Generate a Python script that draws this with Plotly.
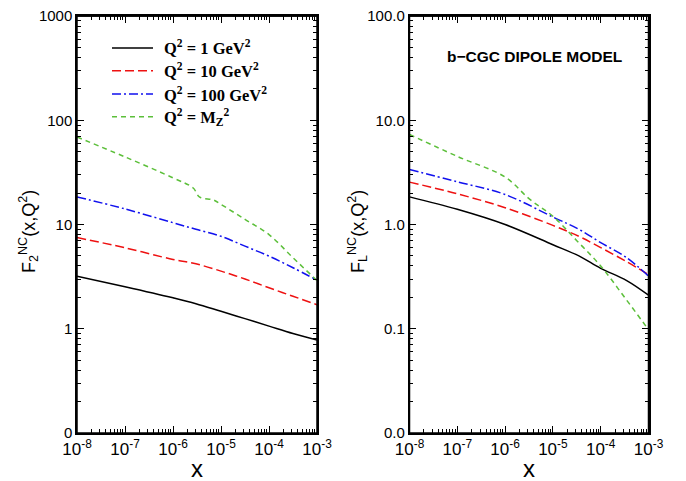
import plotly.graph_objects as go

# ---------------- data ----------------
x_std = [1e-8, 1e-7, 1e-6, 3e-6, 1e-5, 3.16e-5, 1e-4, 3.16e-4, 1e-3]

f2_q1 = [3.19, 2.53, 1.98, 1.74, 1.47, 1.25, 1.06, 0.90, 0.78]
f2_q10 = [7.5, 5.98, 4.62, 4.2, 3.57, 3.0, 2.47, 2.05, 1.70]
f2_q100 = [18.4, 14.1, 10.4, 9.0, 7.7, 6.2, 4.97, 3.85, 2.92]
x_f2_mz = [1e-8, 1e-7, 1e-6, 2.6e-6, 3.6e-6, 7e-6, 1e-5, 3.16e-5, 1e-4, 3.16e-4, 1e-3]
f2_mz = [69, 44.5, 28, 22.5, 18.3, 17.2, 15.6, 11.2, 8.0, 4.8, 2.9]

x_fl = [1e-8, 1e-7, 1e-6, 1e-5, 3.5e-5, 1e-4, 3.5e-4, 1e-3]
fl_q1 = [1.84, 1.40, 1.0, 0.64, 0.50, 0.38, 0.29, 0.21]
fl_q10 = [2.55, 1.97, 1.45, 0.98, 0.77, 0.60, 0.44, 0.33]
fl_q100 = [3.37, 2.57, 1.94, 1.18, 0.90, 0.67, 0.48, 0.32]
x_fl_mz = [1e-8, 1e-7, 1e-6, 3.3e-6, 1e-5, 3.16e-5, 1e-4, 3.16e-4, 1e-3]
fl_mz = [7.3, 4.5, 2.85, 1.74, 1.2, 0.7, 0.4, 0.2, 0.098]

x_tickvals = [1e-8, 1e-7, 1e-6, 1e-5, 1e-4, 1e-3]
x_ticktext = ["10<sup>-8</sup>", "10<sup>-7</sup>", "10<sup>-6</sup>",
              "10<sup>-5</sup>", "10<sup>-4</sup>", "10<sup>-3</sup>"]
y1_tickvals = [0.1, 1, 10, 100, 1000]
y1_ticktext = ["0", "1", "10", "100", "1000"]
y2_tickvals = [0.01, 0.1, 1, 10, 100]
y2_ticktext = ["0.0", "0.1", "1.0", "10.0", "100.0"]

legend_labels = ["Q<sup>2</sup> = 1 GeV<sup>2</sup>",
                 "Q<sup>2</sup> = 10 GeV<sup>2</sup>",
                 "Q<sup>2</sup> = 100 GeV<sup>2</sup>",
                 "Q<sup>2</sup> = M<sub>Z</sub><sup>2</sup>"]

# ---------------- styles ----------------
colors = ["black", "#ee1111", "#1111ee", "#5cbf3a"]
dashes = ["solid", "9px,4px", "9px,3px,2px,3px", "5px,4px"]

# the page body has an 8px margin
OFF = 8
W, H = 686 - OFF, 481 - OFF


def px(x):
    return (x - OFF) / W


def py(y):
    return 1 - (y - OFF) / H


fig = go.Figure()

left_series = [(x_std, f2_q1), (x_std, f2_q10), (x_std, f2_q100), (x_f2_mz, f2_mz)]
right_series = [(x_fl, fl_q1), (x_fl, fl_q10), (x_fl, fl_q100), (x_fl_mz, fl_mz)]

for i, (xs, ys) in enumerate(left_series):
    fig.add_trace(go.Scatter(x=xs, y=ys, mode="lines", xaxis="x", yaxis="y",
                             line=dict(color=colors[i], dash=dashes[i], width=1.5),
                             line_shape="spline", showlegend=False))
for i, (xs, ys) in enumerate(right_series):
    fig.add_trace(go.Scatter(x=xs, y=ys, mode="lines", xaxis="x2", yaxis="y2",
                             line=dict(color=colors[i], dash=dashes[i], width=1.5),
                             line_shape="spline", showlegend=False))

# top edge of each frame, drawn along the upper limit of the y range
fig.add_trace(go.Scatter(x=[x_tickvals[0], x_tickvals[-1]], y=[y1_tickvals[-1]] * 2,
                         mode="lines", xaxis="x", yaxis="y", cliponaxis=False,
                         line=dict(color="black", width=1.5), showlegend=False,
                         hoverinfo="skip"))
fig.add_trace(go.Scatter(x=[x_tickvals[0], x_tickvals[-1]], y=[y2_tickvals[-1]] * 2,
                         mode="lines", xaxis="x2", yaxis="y2", cliponaxis=False,
                         line=dict(color="black", width=1.5), showlegend=False,
                         hoverinfo="skip"))


def minor_vals(lo, hi):
    vals = []
    for e in range(lo, hi):
        for m in range(2, 10):
            vals.append(m * 10.0 ** e)
    return vals


def axis(tv, tt, rng, dom, minor, anchor, fsize):
    return dict(type="log", range=rng, domain=dom, anchor=anchor, automargin=False,
                tickmode="array", tickvals=tv, ticktext=tt, ticklabeloverflow="allow",
                showline=True, linecolor="black", linewidth=1.5, mirror="allticks",
                ticks="inside", ticklen=7, tickwidth=1.2, tickcolor="black",
                showgrid=False, zeroline=False,
                tickfont=dict(family="Liberation Sans, Arial", size=fsize, color="black"),
                minor=dict(tickmode="array", tickvals=minor, ticks="inside",
                           ticklen=4, tickwidth=1, tickcolor="black", showgrid=False))


PL = [(77, 317), (409.5, 648.5)]
TOP, BOT = 16, 433
xd1 = [px(PL[0][0]), px(PL[0][1])]
xd2 = [px(PL[1][0]), px(PL[1][1])]
yd = [py(BOT), py(TOP)]

fig.update_layout(
    width=W, height=H, margin=dict(l=0, r=0, t=0, b=0, pad=0, autoexpand=False),
    paper_bgcolor="white", plot_bgcolor="white",
    xaxis=axis(x_tickvals, x_ticktext, [-8, -3], xd1, minor_vals(-8, -3), "y", 17),
    yaxis=axis(y1_tickvals, y1_ticktext, [-1, 3], yd, minor_vals(-1, 3), "x", 15),
    xaxis2=axis(x_tickvals, x_ticktext, [-8, -3], xd2, minor_vals(-8, -3), "y2", 17),
    yaxis2=axis(y2_tickvals, y2_ticktext, [-2, 2], yd, minor_vals(-2, 2), "x2", 15),
)

ann = []
shapes = []
# frame of each panel (paper coordinates)
for x0, x1 in PL:
    shapes.append(dict(type="rect", xref="paper", yref="paper",
                       x0=px(x0), x1=px(x1), y0=py(BOT), y1=py(TOP),
                       line=dict(color="black", width=1.5), layer="above"))

# legend (drawn inside left panel)
rows_y = [48, 70.7, 94, 116.7]
for i, lab in enumerate(legend_labels):
    yp = py(rows_y[i])
    shapes.append(dict(type="line", xref="paper", yref="paper",
                       x0=px(112), x1=px(153), y0=yp, y1=yp,
                       line=dict(color=colors[i], dash=dashes[i], width=1.5)))
    ann.append(dict(text=lab, xref="paper", yref="paper", x=px(162), y=yp,
                    xanchor="left", yanchor="middle", showarrow=False,
                    font=dict(family="Liberation Serif, Times New Roman", size=16.5,
                              color="black", weight="bold")))

ann.append(dict(text="<b>b\u2212CGC DIPOLE MODEL</b>", xref="paper", yref="paper",
                x=px(534.5), y=py(57), xanchor="center", yanchor="middle",
                showarrow=False,
                font=dict(family="Liberation Sans, Arial", size=15.5, color="black")))

# axis titles
ann.append(dict(text="F<sub>2</sub><sup>NC</sup>(x,Q<sup>2</sup>)", xref="paper", yref="paper",
                x=px(28), y=py(232), textangle=-90, showarrow=False,
                xanchor="center", yanchor="middle",
                font=dict(family="Liberation Sans, Arial", size=18, color="black")))
ann.append(dict(text="F<sub>L</sub><sup>NC</sup>(x,Q<sup>2</sup>)", xref="paper", yref="paper",
                x=px(357), y=py(232), textangle=-90, showarrow=False,
                xanchor="center", yanchor="middle",
                font=dict(family="Liberation Sans, Arial", size=18, color="black")))
for xc in [197, 529]:
    ann.append(dict(text="x", xref="paper", yref="paper", x=px(xc), y=py(468),
                    showarrow=False, xanchor="center", yanchor="middle",
                    font=dict(family="Liberation Sans, Arial", size=24, color="black")))

fig.update_layout(annotations=ann, shapes=shapes)
fig.write_html("out.html", config={"displayModeBar": False})
